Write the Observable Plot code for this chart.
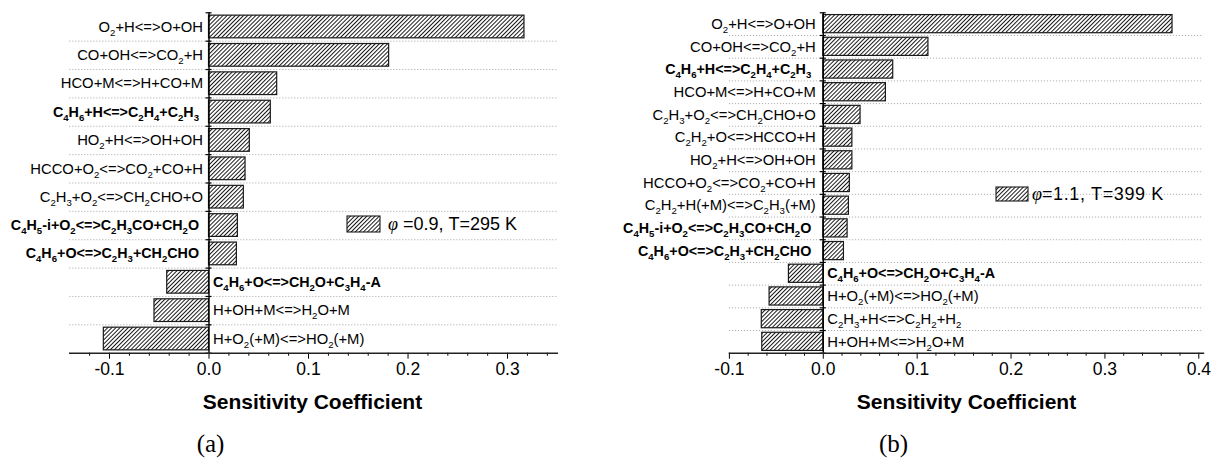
<!DOCTYPE html>
<html><head><meta charset="utf-8">
<script src="https://cdn.jsdelivr.net/npm/d3@7"></script>
<script src="https://cdn.jsdelivr.net/npm/@observablehq/plot@0.6"></script>
<style>
html,body{margin:0;padding:0;background:#fff;}
#wrap{position:relative;width:1211px;height:460px;overflow:hidden;background:#fff;}
#wrap svg{position:absolute;top:0;overflow:visible;}
</style></head>
<body><div id="wrap"></div>
<script>
// ---------- data ----------
const reactionsA = ["O_2+H<=>O+OH","CO+OH<=>CO_2+H","HCO+M<=>H+CO+M","C_4H_6+H<=>C_2H_4+C_2H_3","HO_2+H<=>OH+OH","HCCO+O_2<=>CO_2+CO+H","C_2H_3+O_2<=>CH_2CHO+O","C_4H_5-i+O_2<=>C_2H_3CO+CH_2O","C_4H_6+O<=>C_2H_3+CH_2CHO","C_4H_6+O<=>CH_2O+C_3H_4-A","H+OH+M<=>H_2O+M","H+O_2(+M)<=>HO_2(+M)"];
const sensA = [0.317,0.181,0.0685,0.0621,0.041,0.0367,0.035,0.029,0.028,-0.042,-0.0548,-0.1057];
const boldA = [false,false,false,true,false,false,false,true,true,true,false,false];

const reactionsB = ["O_2+H<=>O+OH","CO+OH<=>CO_2+H","C_4H_6+H<=>C_2H_4+C_2H_3","HCO+M<=>H+CO+M","C_2H_3+O_2<=>CH_2CHO+O","C_2H_2+O<=>HCCO+H","HO_2+H<=>OH+OH","HCCO+O_2<=>CO_2+CO+H","C_2H_2+H(+M)<=>C_2H_3(+M)","C_4H_5-i+O_2<=>C_2H_3CO+CH_2O","C_4H_6+O<=>C_2H_3+CH_2CHO","C_4H_6+O<=>CH_2O+C_3H_4-A","H+O_2(+M)<=>HO_2(+M)","C_2H_3+H<=>C_2H_2+H_2","H+OH+M<=>H_2O+M"];
const sensB = [0.372,0.112,0.0745,0.0667,0.0397,0.031,0.031,0.0283,0.0273,0.0259,0.022,-0.0366,-0.0572,-0.0655,-0.065];
const boldB = [false,false,true,false,false,false,false,false,false,true,true,true,false,false,false];

const majorTicksA = [-0.1,0,0.1,0.2,0.3];
const minorTicksA = [-0.12,-0.08,-0.06,-0.04,-0.02,0.02,0.04,0.06,0.08,0.12,0.14,0.16,0.18,0.22,0.24,0.26,0.28,0.32,0.34];
const majorTicksB = [-0.1,0,0.1,0.2,0.3,0.4];
const minorTicksB = [-0.08,-0.06,-0.04,-0.02,0.02,0.04,0.06,0.08,0.12,0.14,0.16,0.18,0.22,0.24,0.26,0.28,0.32,0.34,0.36,0.38];

const axisTitle = "Sensitivity Coefficient";
const legendA = ["φ", " =0.9, T=295 K"];
const legendB = ["φ", "=1.1, T=399 K"];
const captions = ["(a)", "(b)"];

// ---------- helpers ----------
const NS = "http://www.w3.org/2000/svg";
const hatchDef = id => `<pattern id="${id}" patternUnits="userSpaceOnUse" width="2.9" height="2.9" patternTransform="rotate(45)"><rect width="2.9" height="2.9" fill="white"/><line x1="0.5" y1="0" x2="0.5" y2="2.9" stroke="black" stroke-width="0.9"/></pattern>`;
function addHatch(svg, id){
  const defs = document.createElementNS(NS, "defs");
  defs.innerHTML = hatchDef(id);
  svg.insertBefore(defs, svg.firstChild);
}
function subscriptify(svg){
  svg.querySelectorAll("text").forEach(t => {
    const s = t.textContent;
    if (!s.includes("_")) return;
    t.textContent = "";
    const parts = s.split(/_(\d)/);
    parts.forEach((p, i) => {
      if (!p) return;
      const ts = document.createElementNS(NS, "tspan");
      ts.textContent = p;
      if (i % 2 === 1) { ts.setAttribute("font-size", "9.6"); ts.setAttribute("dy", "4"); }
      else if (i > 0) { ts.setAttribute("dy", "-4"); }
      t.appendChild(ts);
    });
  });
}

function panel(o){
  const data = o.names.map((n, i) => ({name: n, value: o.values[i], bold: o.bold[i]}));
  const n = o.names.length;
  const step = (o.height - o.mt - o.mb) / n;
  const fmt = d => d.toFixed(1);
  const common = {x: 0, y: "name", text: "name", lineAnchor: "middle", fill: "black"};
  const svg = Plot.plot({
    width: o.width, height: o.height,
    marginTop: o.mt, marginBottom: o.mb, marginLeft: o.ml, marginRight: o.mr,
    style: {fontFamily: "'Liberation Sans', Arial, sans-serif", fontSize: "17.5px", background: "transparent", color: "black", overflow: "visible"},
    x: {domain: o.domain, axis: null, label: null},
    y: {domain: o.names, axis: null, paddingInner: 0.2, paddingOuter: 0.1, round: false, label: null},
    marks: [
      Plot.ruleY(o.names.slice(0, -1), {y: d => d, dy: step / 2, stroke: "#a0a0a0", strokeWidth: 0.8, strokeDasharray: "1.2,1.8"}),
      Plot.barX(data, {x: "value", y: "name", fill: `url(#${o.hatch})`, stroke: "#1a1a1a", strokeWidth: 1.2}),
      Plot.ruleX([0], {stroke: "black", strokeWidth: 1.4}),
      Plot.ruleY(o.names, {y: d => d, dy: step / 2, x1: -o.tickHalf, x2: o.tickHalf, stroke: "black", strokeWidth: 1.2}),
      Plot.ruleY([o.names[0]], {y: d => d, dy: -step / 2, x1: -o.tickHalf, x2: o.tickHalf, stroke: "black", strokeWidth: 1.2}),
      Plot.axisX({ticks: o.minors, tickSize: 3, tickFormat: () => "", label: null, stroke: "black"}),
      Plot.axisX({ticks: o.majors, tickSize: 6, tickPadding: 3, tickFormat: fmt, label: null, fontSize: 17.5, stroke: "black"}),
      Plot.frame({anchor: "bottom", stroke: "#222", strokeWidth: 1.4}),
      Plot.text(data.filter(d => d.value >= 0 && !d.bold), {...common, fontSize: 14.8, textAnchor: "end", dx: o.posDx}),
      Plot.text(data.filter(d => d.value >= 0 && d.bold), {...common, fontSize: 14.3, textAnchor: "end", dx: o.boldDx, fontWeight: "bold"}),
      Plot.text(data.filter(d => d.value < 0 && !d.bold), {...common, fontSize: 14.8, textAnchor: "start", dx: o.negDx}),
      Plot.text(data.filter(d => d.value < 0 && d.bold), {...common, fontSize: 14.3, textAnchor: "start", dx: o.negDx, fontWeight: "bold"})
    ]
  });
  addHatch(svg, o.hatch);
  subscriptify(svg);
  svg.style.left = o.left + "px";
  return svg;
}

const wrap = document.getElementById("wrap");
wrap.appendChild(panel({names: reactionsA, values: sensA, bold: boldA, domain: [-0.14, 0.35],
  majors: majorTicksA, minors: minorTicksA, left: 0, width: 600, height: 380,
  mt: 12.3, mb: 27.3, ml: 69.2, mr: 43.2, hatch: "hatchA", posDx: -6, boldDx: -10, negDx: 4, tickHalf: 0.003}));
wrap.appendChild(panel({names: reactionsB, values: sensB, bold: boldB, domain: [-0.1, 0.405],
  majors: majorTicksB, minors: minorTicksB, left: 611, width: 600, height: 380,
  mt: 12.3, mb: 27.3, ml: 117.9, mr: 8, hatch: "hatchB", posDx: -7.5, boldDx: -12, negDx: 4, tickHalf: 0.0032}));

// ---------- overlay: titles, captions, legends ----------
const ov = d3.select(wrap).append("svg").attr("width", 1211).attr("height", 460).style("left", "0px");
ov.append("defs").html(hatchDef("hatchL"));
const sans = "'Liberation Sans', Arial, sans-serif";
const serif = "'Liberation Serif', 'Times New Roman', serif";
[[312.5, 408.5], [966.5, 408.5]].forEach(([x, y]) => {
  ov.append("text").attr("x", x).attr("y", y).attr("text-anchor", "middle")
    .attr("font-family", sans).attr("font-weight", "bold").attr("font-size", 21).text(axisTitle);
});
[[210.5, 452, captions[0]], [893.5, 452, captions[1]]].forEach(([x, y, t]) => {
  ov.append("text").attr("x", x).attr("y", y).attr("text-anchor", "middle")
    .attr("font-family", serif).attr("font-size", 25).text(t);
});
function legend(rx, ry, rw, rh, tx, ty, parts, ls){
  ov.append("rect").attr("x", rx).attr("y", ry).attr("width", rw).attr("height", rh)
    .attr("fill", "url(#hatchL)").attr("stroke", "#1a1a1a").attr("stroke-width", 1.1);
  const t = ov.append("text").attr("x", tx).attr("y", ty).attr("font-family", sans).attr("font-size", 18);
  t.append("tspan").attr("font-family", serif).attr("font-style", "italic").attr("font-size", 18).text(parts[0]);
  t.append("tspan").attr("letter-spacing", ls).text(parts[1]);
}
legend(347, 216, 33, 16, 388, 230, legendA, 0);
legend(996, 187, 32, 14, 1032, 199.5, legendB, 0.6);
</script>
</body></html>
